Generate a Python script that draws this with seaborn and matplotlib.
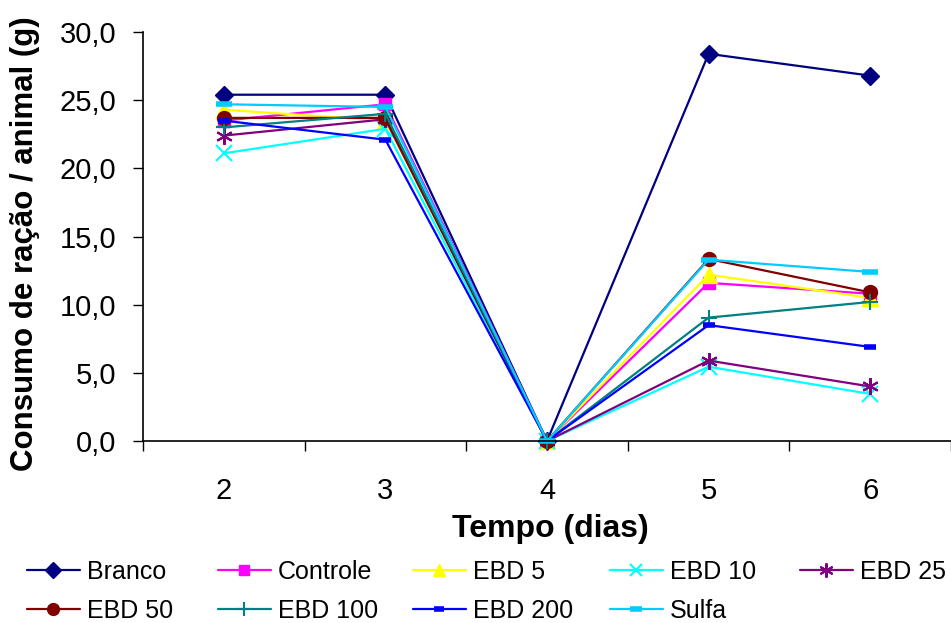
import matplotlib
matplotlib.use("Agg")
import matplotlib.pyplot as plt
import seaborn as sns
import pandas as pd
import numpy as np

dias = [2, 3, 4, 5, 6]
branco   = [25.4, 25.4, 0.0, 28.4, 26.8]
controle = [23.5, 24.7, 0.0, 11.6, 10.8]
ebd5     = [24.3, 23.5, 0.0, 12.2, 10.5]
ebd10    = [21.1, 22.9, 0.0, 5.45, 3.45]
ebd25    = [22.4, 23.6, 0.0, 5.9, 4.0]
ebd50    = [23.7, 23.7, 0.0, 13.35, 10.9]
ebd100   = [23.0, 24.0, 0.0, 9.05, 10.2]
ebd200   = [23.5, 22.1, 0.0, 8.5, 6.9]
sulfa    = [24.7, 24.5, 0.0, 13.3, 12.4]

series_names = ["Branco", "Controle", "EBD 5", "EBD 10", "EBD 25",
                "EBD 50", "EBD 100", "EBD 200", "Sulfa"]
series_vals = [branco, controle, ebd5, ebd10, ebd25, ebd50, ebd100, ebd200, sulfa]
yticks = [0, 5, 10, 15, 20, 25, 30]
ytick_labels = ["0,0", "5,0", "10,0", "15,0", "20,0", "25,0", "30,0"]

colors = ["#000080", "#FF00FF", "#FFFF00", "#00FFFF", "#800080",
          "#800000", "#008080", "#0000FF", "#00CCFF"]
markers = ["D", "s", "^", "x", (6, 2, 0), "o", "+", "_", "_"]
msizes = [9, 9, 11, 11, 12, 10, 12, 8, 11]
mews = [1, 1, 1, 1.5, 1.5, 1, 1.5, 4, 4]

sns.set_theme(style="white")
plt.rcParams['font.family'] = ['Liberation Sans', 'DejaVu Sans']
plt.rcParams['text.color'] = 'black'
plt.rcParams['axes.labelcolor'] = 'black'
plt.rcParams['xtick.color'] = 'black'
plt.rcParams['ytick.color'] = 'black'

fig = plt.figure(figsize=(9.51, 6.23), dpi=100)
W, H = 951, 623
ax = fig.add_axes([143 / W, (H - 441) / H, (951 - 143) / W, (441 - 32) / H])

handles = []
for name, vals, c, m, ms, mew in zip(series_names, series_vals, colors, markers, msizes, mews):
    df = pd.DataFrame({"dia": dias, "valor": vals})
    sns.lineplot(data=df, x="dia", y="valor", ax=ax, color=c, linewidth=1.6,
                 marker=m, markersize=ms, markeredgecolor=c, markerfacecolor=c,
                 markeredgewidth=mew, label=name, legend=False, clip_on=False)
    handles.append(ax.lines[-1])

ax.set_xlim(1.5, 6.5)
ax.set_ylim(0, 30)
ax.set_yticks(yticks)
ax.set_yticklabels(ytick_labels, fontsize=21)
ax.set_xticks(dias)
ax.set_xticklabels([str(d) for d in dias], fontsize=21)
ax.set_xticks(np.arange(1.5, 7.0, 1.0), minor=True)
ax.tick_params(axis="x", which="major", length=0, pad=26, labelcolor="black")
ax.tick_params(axis="x", which="minor", length=7, width=1, color="black", direction="out", bottom=True)
ax.tick_params(axis="y", which="major", length=7, width=1, color="black", direction="out", left=True, pad=12, labelcolor="black")

for s in ["top", "right"]:
    ax.spines[s].set_visible(False)
for s in ["left", "bottom"]:
    ax.spines[s].set_color("black")
    ax.spines[s].set_linewidth(1.2)

ax.set_xlabel("Tempo (dias)", fontsize=23, fontweight="bold", color="black")
ax.xaxis.set_label_coords((550 - 143) / 808, (441 - 514) / 409)
ax.set_ylabel("Consumo de ração / animal (g)", fontsize=22.5, fontweight="bold", color="black")
ax.yaxis.set_label_coords((40 - 143) / 808, (441 - 244) / 409)

# legend: 5 columns, row-major order, fixed column positions
col_x = [27, 218, 413, 610, 800]
cols = [[0, 5], [1, 6], [2, 7], [3, 8], [4]]
for x, idx in zip(col_x, cols):
    leg = fig.legend(handles=[handles[i] for i in idx],
                     labels=[series_names[i] for i in idx],
                     loc="upper left", bbox_to_anchor=(x / W, 1 - 560 / H),
                     frameon=False, fontsize=18, handlelength=2.1,
                     handletextpad=0.3, labelspacing=0.58, borderpad=0,
                     borderaxespad=0, markerscale=0.85, labelcolor="black")

fig.savefig("out.png", dpi=100, facecolor="white")
